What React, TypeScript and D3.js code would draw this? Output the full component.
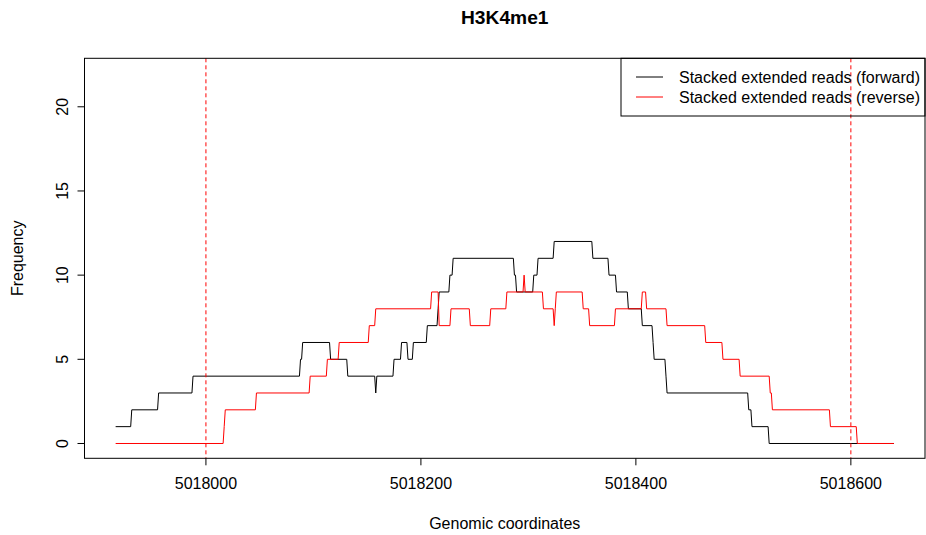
import React from "react";
import * as d3 from "d3";

// position where each step starts, and its height
const forwardStarts = [
  5017916, 5017931, 5017956, 5017988, 5018088, 5018090, 5018116, 5018132, 5018158,
  5018159, 5018175, 5018182, 5018188, 5018193, 5018206, 5018216, 5018217, 5018227,
  5018230, 5018287, 5018289, 5018305, 5018309, 5018324, 5018360, 5018375, 5018382,
  5018393, 5018406, 5018416, 5018417, 5018428, 5018429, 5018505, 5018508, 5018524,
];
const forwardValues = [
  1, 2, 3, 4, 5, 6, 5, 4, 3, 4, 5, 6, 5, 6, 7, 8, 9, 10, 11, 10, 9, 10, 11, 12, 11, 10,
  9, 8, 7, 6, 5, 4, 3, 2, 1, 0,
];
const reverseStarts = [
  5017916, 5018017, 5018018, 5018047, 5018097, 5018113, 5018124, 5018152, 5018158,
  5018210, 5018217, 5018228, 5018246, 5018265, 5018280, 5018296, 5018297, 5018314,
  5018324, 5018325, 5018326, 5018351, 5018357, 5018381, 5018406, 5018410, 5018429,
  5018465, 5018481, 5018497, 5018525, 5018527, 5018581, 5018606,
];
const reverseValues = [
  0, 1, 2, 3, 4, 5, 6, 7, 8, 9, 7, 8, 7, 8, 9, 10, 9, 8, 7, 8, 9, 8, 7, 8, 9, 8, 7, 6, 5,
  4, 3, 2, 1, 0,
];
const lastPosition = 5018640;
const markerPositions = [5018000, 5018600];
const xTicks = [5018000, 5018200, 5018400, 5018600];
const yTicks = [0, 5, 10, 15, 20];
const legendLabels = [
  "Stacked extended reads (forward)",
  "Stacked extended reads (reverse)",
];
const seriesColors = ["black", "red"];

const W = 926;
const H = 535;
const plot = { left: 84.5, right: 925, top: 58.3, bottom: 458.3 };
const font = "'Liberation Sans', Arial, Helvetica, sans-serif";
const fs = 16;

// one point per base at each end of a step, like R's type="l" on per-bp data
function toPoints(starts: number[], values: number[], end: number): [number, number][] {
  const pts: [number, number][] = [];
  starts.forEach((s, i) => {
    const e = i < starts.length - 1 ? starts[i + 1] - 1 : end;
    pts.push([s, values[i]]);
    if (e > s) pts.push([e, values[i]]);
  });
  return pts;
}

export default function App() {
  const xmin = forwardStarts[0];
  const pad = (lastPosition - xmin) * 0.04;
  const x = d3.scaleLinear().domain([xmin - pad, lastPosition + pad]).range([plot.left, plot.right]);
  const y = d3.scaleLinear().domain([-0.88, 22.88]).range([plot.bottom, plot.top]);

  const line = d3
    .line<[number, number]>()
    .x((d) => x(d[0]))
    .y((d) => y(d[1]));

  const series = [
    toPoints(forwardStarts, forwardValues, lastPosition),
    toPoints(reverseStarts, reverseValues, lastPosition),
  ];

  const midX = (plot.left + plot.right) / 2;
  const midY = (plot.top + plot.bottom) / 2;

  return (
    <svg
      width={W}
      height={H}
      style={{ position: "absolute", left: 0, top: 0, background: "white" }}
      fontFamily={font}
    >
      <rect width={W} height={H} fill="white" />
      <text x={midX} y={24} textAnchor="middle" fontWeight="bold" fontSize={19.2}>
        H3K4me1
      </text>

      {series.map((pts, i) => (
        <path key={i} d={line(pts) || ""} fill="none" stroke={seriesColors[i]} strokeWidth={1} />
      ))}

      {markerPositions.map((p) => (
        <line
          key={p}
          x1={x(p)}
          x2={x(p)}
          y1={plot.top}
          y2={plot.bottom}
          stroke="red"
          strokeWidth={1}
          strokeDasharray="4,3"
        />
      ))}

      {/* legend */}
      <rect x={621} y={plot.top} width={plot.right - 621} height={57.7} fill="none" stroke="black" strokeWidth={1} />
      {legendLabels.map((lab, i) => (
        <g key={lab}>
          <line x1={636} x2={663} y1={77 + i * 20} y2={77 + i * 20} stroke={seriesColors[i]} strokeWidth={1} />
          <text x={679} y={82.8 + i * 20} fontSize={fs}>
            {lab}
          </text>
        </g>
      ))}

      <rect
        x={plot.left}
        y={plot.top}
        width={plot.right - plot.left}
        height={plot.bottom - plot.top}
        fill="none"
        stroke="black"
        strokeWidth={1}
      />

      {xTicks.map((t) => (
        <g key={t}>
          <line x1={x(t)} x2={x(t)} y1={plot.bottom} y2={plot.bottom + 7} stroke="black" />
          <text x={x(t)} y={488.5} textAnchor="middle" fontSize={fs}>
            {t}
          </text>
        </g>
      ))}
      {yTicks.map((t) => (
        <g key={t}>
          <line x1={plot.left - 7} x2={plot.left} y1={y(t)} y2={y(t)} stroke="black" />
          <text transform={`translate(67.5,${y(t)}) rotate(-90)`} textAnchor="middle" fontSize={fs}>
            {t}
          </text>
        </g>
      ))}

      <text x={midX} y={529} textAnchor="middle" fontSize={fs}>
        Genomic coordinates
      </text>
      <text transform={`translate(23,${midY}) rotate(-90)`} textAnchor="middle" fontSize={fs}>
        Frequency
      </text>
    </svg>
  );
}
